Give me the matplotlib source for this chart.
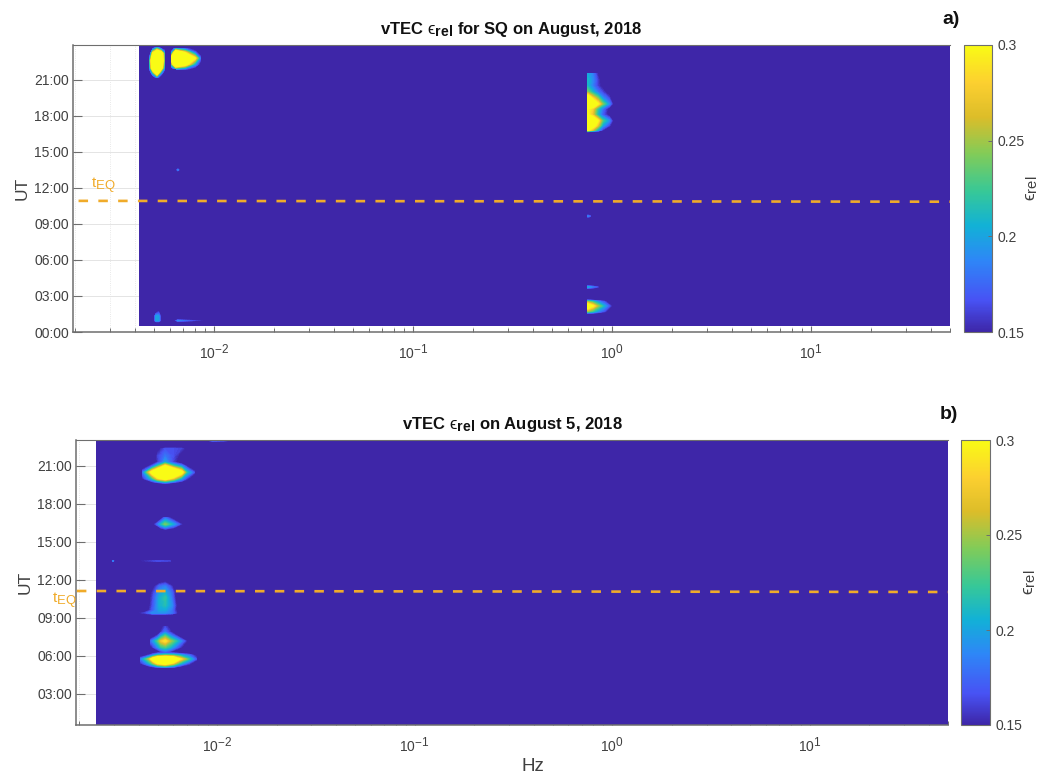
import numpy as np
import matplotlib as mpl
mpl.use('Agg')
import matplotlib.pyplot as plt
import matplotlib.colors as colors
import matplotlib._mathtext as mathtext_internals

plt.rcParams['font.family'] = ['Liberation Sans', 'DejaVu Sans']
plt.rcParams['mathtext.fontset'] = 'custom'
plt.rcParams['mathtext.rm'] = 'Liberation Sans'
plt.rcParams['mathtext.it'] = 'Liberation Sans:italic'
plt.rcParams['mathtext.bf'] = 'Liberation Sans:bold'
plt.rcParams['mathtext.fallback'] = 'stix'
# subscripts and exponents are large in the original
mathtext_internals.SHRINK_FACTOR = 0.85

W, H = 1047, 776

parula = colors.LinearSegmentedColormap.from_list('parula', [
    (0.00, (0.2422, 0.1504, 0.6603)),
    (0.11, (0.2810, 0.3228, 0.9579)),
    (0.25, (0.1786, 0.5289, 0.9682)),
    (0.37, (0.0689, 0.6948, 0.8394)),
    (0.49, (0.2161, 0.7843, 0.5923)),
    (0.62, (0.5044, 0.7993, 0.3480)),
    (0.75, (0.8634, 0.7406, 0.1600)),
    (0.87, (0.9892, 0.8136, 0.1885)),
    (1.00, (0.9769, 0.9839, 0.0805))], N=256)
parula.set_over((0.9769, 0.9839, 0.0805))

BASE = 0.15
LEVELS = np.linspace(0.15, 0.30, 61)

# panel a: extent of the spectrogram
a_freq_edges = [0.0042, 50.0]
a_ut_edges = [0.5, 24.0]
a_teq_freq = [0.00209, 50.0]
a_teq_ut = [10.92, 10.85]

# panel a patches: (freqs Hz, UT hours, values by UT row)
a_patches = [
    ([0.00476, 0.00493, 0.00518, 0.00542, 0.00568],
     [21.2, 21.6, 22.0, 22.6, 23.2, 23.7],
     [[.12, .12, .18, .12, .12],
      [.12, .22, .36, .20, .12],
      [.19, .36, .42, .34, .17],
      [.21, .40, .44, .40, .20],
      [.12, .30, .40, .36, .19],
      [.12, .12, .19, .12, .12]]),
    ([0.00615, 0.00644, 0.00715, 0.00803, 0.0086],
     [21.9, 22.3, 22.8, 23.3, 23.6],
     [[.12, .19, .17, .13, .12],
      [.24, .40, .33, .20, .13],
      [.34, .44, .42, .30, .17],
      [.18, .36, .28, .17, .12],
      [.12, .20, .17, .13, .12]]),
    ([0.757, 0.80, 0.85, 0.90, 0.97, 1.02],
     [16.6, 16.8, 17.2, 17.6, 18.1, 18.6, 19.0, 19.5, 20.0, 20.5, 21.0, 21.5, 21.6],
     [[.10, .10, .10, .10, .10, .10],
      [.30, .26, .20, .15, .12, .12],
      [.38, .33, .27, .20, .16, .13],
      [.42, .35, .30, .23, .19, .14],
      [.30, .27, .21, .17, .14, .12],
      [.30, .28, .22, .18, .14, .12],
      [.42, .36, .30, .24, .19, .14],
      [.34, .28, .24, .19, .16, .12],
      [.24, .21, .18, .16, .135, .12],
      [.21, .185, .16, .14, .12, .12],
      [.21, .19, .16, .13, .12, .12],
      [.20, .185, .15, .12, .12, .12],
      [.10, .10, .10, .10, .10, .10]]),
    ([0.757, 0.80, 0.85, 0.92, 0.99],
     [1.45, 1.7, 2.17, 2.55, 2.75],
     [[.11, .11, .11, .11, .11],
      [.24, .22, .19, .16, .12],
      [.34, .30, .25, .20, .155],
      [.24, .22, .19, .16, .12],
      [.11, .11, .11, .11, .11]]),
    ([0.757, 0.80, 0.85, 0.88],
     [3.45, 3.75, 4.0],
     [[.11, .11, .11, .11],
      [.20, .18, .16, .12],
      [.11, .11, .11, .11]]),
    ([0.757, 0.775, 0.80],
     [9.4, 9.65, 9.9],
     [[.11, .11, .11],
      [.185, .17, .12],
      [.11, .11, .11]]),
    ([0.0064, 0.0066, 0.0068],
     [13.3, 13.5, 13.7],
     [[.12, .12, .12],
      [.12, .185, .12],
      [.12, .12, .12]]),
    ([0.00495, 0.00512, 0.00528, 0.0055],
     [0.75, 0.95, 1.3, 1.75],
     [[.12, .12, .12, .12],
      [.12, .20, .20, .12],
      [.12, .20, .20, .12],
      [.12, .12, .15, .12]]),
    ([0.0062, 0.0066, 0.0075, 0.0088],
     [0.8, 0.95, 1.1],
     [[.12, .12, .12, .12],
      [.12, .19, .17, .15],
      [.12, .12, .12, .12]]),
]

# panel b: extent of the spectrogram
b_freq_edges = [0.00244, 50.0]
b_ut_edges = [0.55, 23.05]
b_teq_freq = [0.00195, 50.0]
b_teq_ut = [11.13, 11.05]

b_patches = [
    ([0.0042, 0.0047, 0.0050, 0.00546, 0.0060, 0.0066, 0.0070, 0.0077],
     [19.6, 20.0, 20.5, 21.0, 21.3, 21.8, 22.4, 22.5],
     [[.12, .12, .13, .15, .13, .12, .12, .12],
      [.15, .22, .28, .32, .27, .20, .16, .12],
      [.18, .32, .38, .42, .40, .32, .22, .16],
      [.12, .17, .22, .30, .23, .19, .15, .12],
      [.12, .13, .155, .20, .16, .13, .12, .12],
      [.12, .12, .16, .18, .165, .14, .12, .12],
      [.12, .12, .14, .165, .165, .16, .145, .12],
      [.12, .12, .12, .12, .12, .12, .12, .12]]),
    ([0.0048, 0.0052, 0.00546, 0.0060, 0.00665],
     [15.95, 16.4, 16.95],
     [[.12, .13, .145, .13, .12],
      [.15, .21, .24, .20, .15],
      [.12, .13, .17, .13, .12]]),
    ([0.0029, 0.00297, 0.00305],
     [13.35, 13.5, 13.65],
     [[.12, .12, .12],
      [.12, .185, .12],
      [.12, .12, .12]]),
    ([0.0041, 0.0050, 0.0058],
     [13.4, 13.5, 13.6],
     [[.13, .13, .13],
      [.15, .165, .16],
      [.13, .13, .13]]),
    ([0.0038, 0.0043, 0.0047, 0.0051, 0.00546, 0.0059, 0.0063],
     [9.15, 9.4, 9.6, 10.0, 10.6, 11.0, 11.5, 11.85],
     [[.15, .13, .12, .12, .12, .12, .12],
      [.14, .16, .19, .19, .19, .18, .15],
      [.12, .13, .17, .20, .20, .18, .14],
      [.12, .12, .165, .205, .215, .19, .14],
      [.12, .12, .16, .205, .22, .18, .13],
      [.12, .12, .155, .195, .205, .175, .13],
      [.12, .12, .14, .175, .185, .155, .12],
      [.12, .12, .12, .14, .15, .12, .12]]),
    ([0.00458, 0.0050, 0.0052, 0.00546, 0.0058, 0.0063, 0.00696],
     [6.3, 6.7, 7.18, 7.6, 7.9, 8.35],
     [[.12, .13, .15, .17, .15, .12, .12],
      [.14, .19, .22, .23, .21, .17, .13],
      [.17, .23, .27, .29, .25, .21, .155],
      [.12, .16, .20, .23, .19, .15, .12],
      [.12, .12, .155, .18, .155, .12, .12],
      [.12, .12, .14, .16, .14, .12, .12]]),
    ([0.0041, 0.0045, 0.00474, 0.0050, 0.00546, 0.0060, 0.0065, 0.0072, 0.0079],
     [5.05, 5.4, 5.76, 6.05, 6.3],
     [[.12, .12, .13, .145, .16, .145, .12, .12, .12],
      [.15, .20, .24, .29, .32, .27, .21, .16, .12],
      [.18, .25, .33, .40, .42, .38, .29, .22, .16],
      [.13, .16, .19, .22, .24, .23, .21, .18, .14],
      [.12, .12, .13, .14, .15, .14, .13, .12, .12]]),
    ([0.0086, 0.0095, 0.0108, 0.0125],
     [22.85, 23.0, 23.15],
     [[.12, .12, .12, .12],
      [.14, .18, .17, .14],
      [.12, .12, .12, .12]]),
]

y_ticks = [0, 3, 6, 9, 12, 15, 18, 21]
y_labels = ['00:00', '03:00', '06:00', '09:00', '12:00', '15:00', '18:00', '21:00']
x_ticks = [0.01, 0.1, 1, 10]
x_labels = ['$10^{-2}$', '$10^{-1}$', '$10^{0}$', '$10^{1}$']
cbar_ticks = [0.15, 0.2, 0.25, 0.3]
cbar_labels = ['0.15', '0.2', '0.25', '0.3']
TEQ_COLOR = '#f0ab2a'
AXIS_COLOR = '#6e6e6e'
TEXT_COLOR = '#404040'
EPS = '\u03f5'


def px_axes(x0, y0, x1, y1):
    return [x0 / W, 1 - y1 / H, (x1 - x0) / W, (y1 - y0) / H]


def draw_panel(box, cbox, xlim, ylim, freq_edges, ut_edges, patches, teq_f, teq_u, title):
    ax = fig.add_axes(px_axes(*box))
    ax.set_xscale('log')
    ax.set_xlim(xlim)
    ax.set_ylim(ylim)
    ax.grid(True, which='major', axis='y', color='#e4e4e4', lw=0.7, zorder=0)
    ax.grid(True, which='both', axis='x', color='#e2e2e2', lw=0.6, ls=':', zorder=0)
    ax.set_axisbelow(True)

    pcm = ax.pcolormesh(freq_edges, ut_edges, [[BASE]], cmap=parula, vmin=0.15, vmax=0.3, zorder=1)
    for freqs, uts, vals in patches:
        ax.contourf(freqs, uts, np.array(vals), levels=LEVELS, cmap=parula, vmin=0.15, vmax=0.3,
                    extend='max', zorder=2)
    ax.plot(teq_f, teq_u, color=TEQ_COLOR, lw=1.9, dashes=(3.6, 3.9), zorder=3)

    ax.set_yticks([t for t in y_ticks if ylim[0] <= t <= ylim[1]])
    ax.set_yticklabels([l for t, l in zip(y_ticks, y_labels) if ylim[0] <= t <= ylim[1]])
    ax.set_xticks(x_ticks)
    ax.set_xticklabels(x_labels)
    ax.tick_params(axis='y', which='major', direction='in', length=6.5, width=0.8,
                   color=AXIS_COLOR, labelcolor=TEXT_COLOR, labelsize=10, pad=3)
    ax.tick_params(axis='x', which='major', direction='in', length=4.2, width=0.8,
                   color=AXIS_COLOR, labelcolor=TEXT_COLOR, labelsize=10, pad=8)
    ax.tick_params(axis='x', which='minor', direction='in', length=2.6, width=0.7, color=AXIS_COLOR)
    ax.xaxis.set_minor_locator(mpl.ticker.LogLocator(base=10, subs=np.arange(2, 10), numticks=12))
    ax.xaxis.set_minor_formatter(mpl.ticker.NullFormatter())
    for name in ['top', 'right']:
        ax.spines[name].set_visible(False)
    for name in ['left', 'bottom']:
        ax.spines[name].set_color(AXIS_COLOR)
        ax.spines[name].set_linewidth(1.1)
    ax.plot([0, 1], [1, 1], transform=ax.transAxes, color=AXIS_COLOR, lw=0.8, clip_on=False, zorder=4)
    ax.set_ylabel('UT', fontsize=12.5, color=TEXT_COLOR, labelpad=3)
    ax.set_title(title, fontsize=12, fontweight='bold', color='#111111', pad=8)

    cax = fig.add_axes(px_axes(*cbox))
    cbar = fig.colorbar(pcm, cax=cax, ticks=cbar_ticks)
    cbar.ax.set_yticklabels(cbar_labels)
    cbar.ax.tick_params(direction='in', length=3, width=0.7, color=AXIS_COLOR,
                        labelcolor=TEXT_COLOR, labelsize=10, pad=4)
    cbar.outline.set_edgecolor(AXIS_COLOR)
    cbar.outline.set_linewidth(0.8)
    cbar.set_label('$\\mathrm{' + EPS + r'_{rel}}$', fontsize=12.5, color=TEXT_COLOR, labelpad=0)
    return ax


fig = plt.figure(figsize=(W / 100, H / 100), dpi=100, facecolor='white')

ax1 = draw_panel((73, 45, 950, 332), (964, 45, 992, 332), (0.00196, 50.0), (0.0, 23.9),
                 a_freq_edges, a_ut_edges, a_patches, a_teq_freq, a_teq_ut,
                 'vTEC $\\mathrm{' + EPS + r'}_{\mathbf{rel}}$ for SQ on August, 2018')
ax2 = draw_panel((76, 440, 948, 725), (961, 440, 990, 725), (0.00193, 50.0), (0.55, 23.05),
                 b_freq_edges, b_ut_edges, b_patches, b_teq_freq, b_teq_ut,
                 'vTEC $\\mathrm{' + EPS + r'}_{\mathbf{rel}}$ on August 5, 2018')
ax2.set_xlabel('Hz', fontsize=13.5, color=TEXT_COLOR)
ax2.xaxis.set_label_coords(0.524, -0.115)

fig.text(91 / W, 1 - 188 / H, r'$\mathrm{t_{EQ}}$', color=TEQ_COLOR, fontsize=11)
fig.text(52 / W, 1 - 603 / H, r'$\mathrm{t_{EQ}}$', color=TEQ_COLOR, fontsize=11)
fig.text(942 / W, 1 - 24 / H, 'a)', fontsize=14, fontweight='bold', color='#111111')
fig.text(940 / W, 1 - 419 / H, 'b)', fontsize=14, fontweight='bold', color='#111111')

fig.savefig('out.png', dpi=100)
